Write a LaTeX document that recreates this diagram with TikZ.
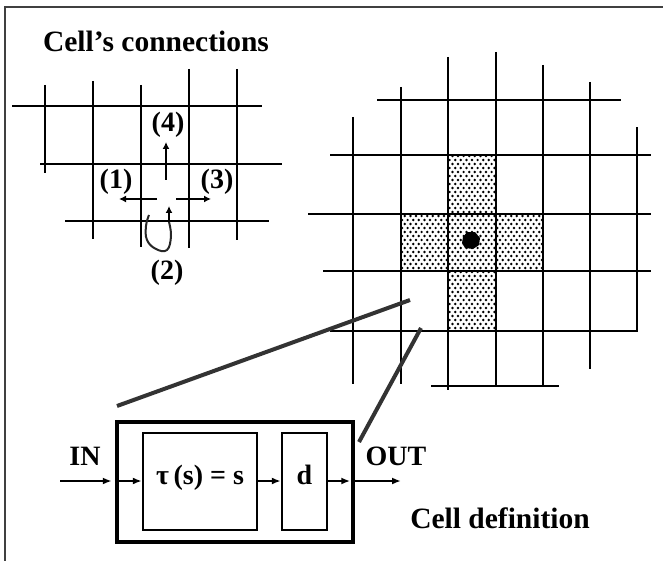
\documentclass[tikz,border=0pt]{standalone}
\usepackage{fontspec}
\setmainfont{Liberation Serif}
\usetikzlibrary{arrows.meta}
\begin{document}
\begin{tikzpicture}[x=1pt,y=-1pt,
  grid/.style={line width=2.6pt,black},
  frame/.style={line width=1.5pt,black!75},
  smalltip/.style={-{Latex[length=7pt,width=7pt]}, line width=2pt},
  sig/.style={-{Latex[length=9pt,width=7pt]}, line width=1.8pt},
  lbl/.style={font=\bfseries\fontsize{28}{30}\selectfont, inner sep=0pt},
  ttl/.style={font=\bfseries\fontsize{29.5}{31}\selectfont, inner sep=0pt, anchor=base},
  diag/.style={line width=4pt, black!80},
  outerbox/.style={draw, line width=4.5pt, minimum width=236pt, minimum height=120pt, inner sep=0pt},
  innerbox/.style={draw, line width=2.4pt, minimum height=97pt, inner sep=0pt,
    text height=13pt, text depth=8pt, font=\bfseries\fontsize{28}{30}\selectfont}
]
\useasboundingbox (0,0) rectangle (663,561);
% frame
\draw[frame] (5,561) -- (5,7) -- (663,7);

% titles
\node[ttl] (t1) at (156,52) {Cell’s connections};
\node[ttl] (t2) at (500,528) {Cell definition};

% ---------- small grid ----------
\draw[grid] (12,106) -- (262,106);
\draw[grid] (40,164) -- (282,164);
\draw[grid] (65,221) -- (269,221);
\draw[grid] (45,85) -- (45,173);
\draw[grid] (93,81) -- (93,239);
\draw[grid] (141,85) -- (141,247);
\draw[grid] (189,69) -- (189,248);
\draw[grid] (237,69) -- (237,240);

\node[lbl] (l4) at (168,125) {(4)};
\node[lbl] (l1) at (116,182) {(1)};
\node[lbl] (l3) at (217,182) {(3)};
\node[lbl] (l2) at (167,273) {(2)};

\coordinate (a4s) at (166,180); \coordinate (a4e) at (166,142);
\coordinate (a1s) at (157,199); \coordinate (a1e) at (119,199);
\coordinate (a3s) at (176,199); \coordinate (a3e) at (211,199);
\coordinate (a2s) at (169,222); \coordinate (a2e) at (169,206);
\draw[smalltip] (a4s) -- (a4e);
\draw[smalltip] (a1s) -- (a1e);
\draw[smalltip] (a3s) -- (a3e);
\draw[smalltip] (a2s) -- (a2e);
\draw[line width=2pt, black!85] plot[smooth, tension=0.7] coordinates
  {(149,215) (146,226) (147,240) (156,249) (167,250) (171,236) (169,222)};

% ---------- big grid ----------
\begin{scope}
  \clip (448,155) rectangle (496,214)
        (401,214) rectangle (543,271)
        (448,271) rectangle (496,331);
  \foreach \r in {0,...,44} {
    \pgfmathsetmacro{\yy}{156+\r*4}
    \pgfmathsetmacro{\off}{mod(\r,2)*2.8}
    \foreach \c in {0,...,26} {
      \fill[black] ({402+\off+\c*5.6},\yy) circle (1.35pt);
    }
  }
\end{scope}
\fill[black] (463,237) -- (467,232) -- (475,232) -- (480,238) -- (479,245) -- (473,249) -- (465,248) -- (462,243) -- cycle;

\draw[grid] (377,100) -- (621,100);
\draw[grid] (330,155) -- (651,155);
\draw[grid] (308,214) -- (651,214);
\draw[grid] (323,271) -- (651,271);
\draw[grid] (330,331) -- (637,331) -- (637,127);
\draw[grid] (431,386) -- (559,386);
\draw[grid] (353,117) -- (353,384);
\draw[grid] (401,87) -- (401,384);
\draw[grid] (448,57) -- (448,390);
\draw[grid] (496,52) -- (496,386);
\draw[grid] (543,65) -- (543,386);
\draw[grid] (590,82) -- (590,369);

% ---------- cell definition ----------
\node[outerbox] (outer) at (235,482) {};
\node[innerbox, minimum width=114pt] (f) at (200,481.5) {τ\,(s) = s};
\node[innerbox, minimum width=45pt] (d) at (304.5,481.5) {d};
\node[lbl, anchor=base] (in) at (85,465) {IN};
\node[lbl, anchor=base] (out) at (396,465) {OUT};

\coordinate (sigin) at (60,481);
\coordinate (sigout) at (401,481);
\draw[sig, shorten >=3pt] (sigin) -- (outer.west |- sigin);
\draw[sig] (outer.west |- sigin) -- (f.west |- sigin);
\draw[sig] (f.east |- sigin) -- (d.west |- sigin);
\draw[sig, shorten >=5pt] (d.east |- sigin) -- (outer.east |- sigin);
\draw[sig] (outer.east |- sigin) -- (sigout);

% zoom lines
\coordinate (z1a) at (410,300); \coordinate (z1b) at (117,406);
\coordinate (z2a) at (421,328); \coordinate (z2b) at (359,442);
\draw[diag] (z1a) -- (z1b);
\draw[diag] (z2a) -- (z2b);
\end{tikzpicture}
\end{document}
